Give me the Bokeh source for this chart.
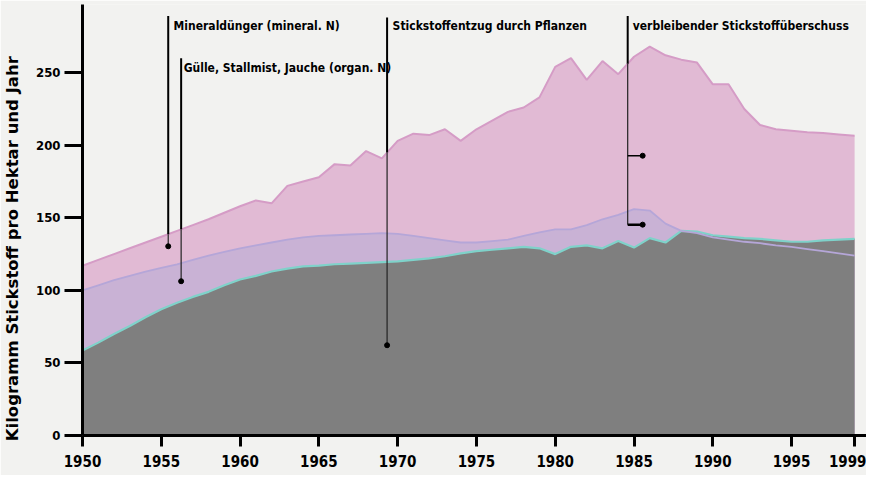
import numpy as np
from bokeh.plotting import figure
from bokeh.models import FixedTicker, Range1d, ColumnDataSource
from bokeh.core.properties import value
from bokeh.embed import file_html
from bokeh.resources import INLINE

# ---------------- data ----------------
years = list(range(1950, 2000))

# total N input (mineral + organic), kg N per ha and year
total_n = [117, 121, 125, 129, 133, 137, 141, 145, 149, 153.5,
           158, 162, 160, 172, 175, 178, 187, 186, 196, 191,
           203, 208, 207, 211, 203, 211, 217, 223, 226, 233,
           254, 260, 245, 258, 249, 261, 268, 262, 259, 257,
           242, 242, 225, 214, 211, 210, 209, 208.5, 207.5, 206.5]

# organic N (Gülle, Stallmist, Jauche)
organic_n = [100, 103.5, 107, 110, 113, 115.5, 118, 121, 124, 126.5,
             129, 131, 133, 135, 136.5, 137.5, 138, 138.5, 139, 139.5,
             139, 137.5, 136, 134.5, 133, 133, 134, 135, 137.5, 140,
             142, 142, 145, 149, 152, 156, 155, 146, 141, 139.5,
             136.5, 135, 133.5, 132.5, 131, 130, 128.5, 127, 125.5, 124]

# N uptake by plants
uptake_n = [58.5, 64, 70, 75.5, 81.5, 87, 91.5, 95.5, 99, 103.5,
            107.5, 110, 113, 115, 116.5, 117, 118, 118.5, 119, 119.5,
            120, 121, 122, 123.5, 125.5, 127, 128, 129, 130, 129,
            125, 130, 131, 129, 134, 129.5, 136, 133, 141, 140.5,
            138, 137, 136, 135.5, 134.5, 133.5, 133.5, 134.5, 135, 135.5]

x_ticks = [1950, 1955, 1960, 1965, 1970, 1975, 1980, 1985, 1990, 1995, 1999]
y_ticks = [0, 50, 100, 150, 200, 250]
y_title = "Kilogramm Stickstoff pro Hektar und Jahr"

# annotations: label text, line x (year), label x, label y, line top, dot value
ann_text = ["Mineraldünger (mineral. N)",
            "Gülle, Stallmist, Jauche (organ. N)",
            "Stickstoffentzug durch Pflanzen",
            "verbleibender Stickstoffüberschuss"]
ann_line_x = [1955.44, 1956.26, 1969.33, 1984.6]
ann_text_x = [1955.78, 1956.42, 1969.68, 1984.92]
ann_text_y = [282, 253, 282, 282]
ann_top = [289, 260, 288, 289]
ann_dot = [130.4, 106.3, 62.2, 145.3]

# bracket of the surplus annotation
bracket_y = [192.8, 145.3]
bracket_x1 = 1985.55

COND = "DejaVu Sans Condensed"

# ---------------- figure ----------------
BG = "#f2f2f0"
p = figure(width=866, height=475,
           x_range=Range1d(1950, 1999.755), y_range=Range1d(0, 297),
           output_backend="svg", toolbar_location=None,
           min_border_left=75, min_border_right=0,
           min_border_top=4, min_border_bottom=40)
p.background_fill_color = BG
p.border_fill_color = BG
p.outline_line_color = None
p.xgrid.visible = False
p.ygrid.visible = False

src = ColumnDataSource(dict(x=years, total=total_n, org=organic_n, up=uptake_n))

p.varea(x="x", y1=0, y2="total", source=src, fill_color="#e1bad4")
p.line(x="x", y="total", source=src, line_color="#d59cc6", line_width=2)
p.varea(x="x", y1=0, y2="org", source=src, fill_color="#c9b2d5")
p.varea(x="x", y1=0, y2="up", source=src, fill_color="#7f7f7f")
p.line(x="x", y="up", source=src, line_color="#7fd2ca", line_width=2.2)
p.line(x="x", y="org", source=src, line_color="#b5a6d8", line_width=1.8)

# annotation lines
yrs = np.array(years, dtype=float)
tot = np.array(total_n, dtype=float)
edge = [float(np.interp(x, yrs, tot)) for x in ann_line_x]
p.segment(x0=ann_line_x, y0=ann_top, x1=ann_line_x, y1=edge,
          line_color="black", line_width=2)
p.segment(x0=ann_line_x, y0=edge, x1=ann_line_x, y1=ann_dot,
          line_color="#222222", line_width=1.2)
p.scatter(x=ann_line_x[:3], y=ann_dot[:3], size=5, color="black")
p.segment(x0=[ann_line_x[3]] * 2, y0=bracket_y, x1=[bracket_x1] * 2, y1=bracket_y,
          line_color="black", line_width=[1.5, 2.5])
p.scatter(x=[bracket_x1] * 2, y=bracket_y, size=5, color="black")

p.text(x=ann_text_x, y=ann_text_y, text=ann_text,
       text_font=value(COND), text_font_size="12px", text_font_style="bold",
       text_color="black", text_baseline="middle", text_align="left")

# axes
for ax in (p.xaxis[0], p.yaxis[0]):
    ax.axis_line_width = 3
    ax.axis_line_color = "black"
    ax.major_tick_line_width = 3
    ax.major_tick_line_color = "black"
    ax.major_tick_in = 0
    ax.minor_tick_line_color = None
    ax.major_label_text_font = COND
    ax.major_label_text_font_style = "bold"
    ax.major_label_text_color = "black"

p.xaxis.ticker = FixedTicker(ticks=x_ticks)
p.xaxis.major_label_overrides = {t: str(t) for t in x_ticks}
p.xaxis.major_tick_out = 11
p.xaxis.major_label_standoff = 8
p.xaxis.major_label_text_font_size = "15px"

p.yaxis.ticker = FixedTicker(ticks=y_ticks)
p.yaxis.major_tick_out = 18
p.yaxis.major_label_standoff = 4
p.yaxis.major_label_text_font_size = "13px"
# non-breaking spaces at the end push the title down, as in the original
p.yaxis.axis_label = y_title + "\u00a0" * 10
p.yaxis.axis_label_text_font = "DejaVu Sans"
p.yaxis.axis_label_text_font_style = "bold"
p.yaxis.axis_label_text_font_size = "16.5px"
p.yaxis.axis_label_text_color = "black"
p.yaxis.axis_label_standoff = 11

open("out.html", "w").write(file_html(p, INLINE))
